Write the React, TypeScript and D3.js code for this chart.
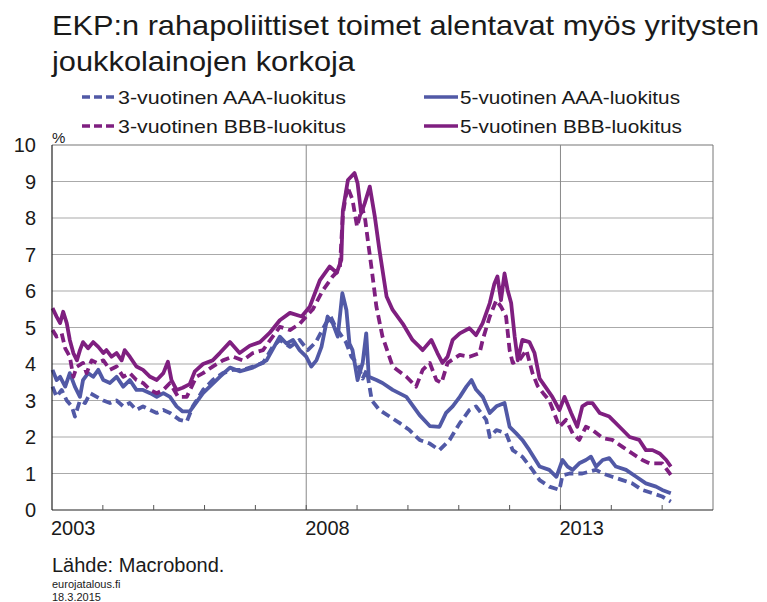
import React from "react";
import * as d3 from "d3";

const titleLines = ["EKP:n rahapoliittiset toimet alentavat myös yritysten", "joukkolainojen korkoja"];
const yTicks = [0, 1, 2, 3, 4, 5, 6, 7, 8, 9, 10];
const xLabelYears = [2003, 2008, 2013];
const xGridYears = [2008, 2013];
const xTickYears = [2004, 2005, 2006, 2007, 2008, 2009, 2010, 2011, 2012, 2013, 2014, 2015];

// [decimal year, %]
const aaa3: [number, number][] = [
  [2003.01, 3.38], [2003.09, 3.1], [2003.19, 3.29], [2003.29, 3.0], [2003.39, 2.84], [2003.45, 2.56],
  [2003.55, 3.0], [2003.65, 2.93], [2003.75, 3.2], [2003.88, 3.1], [2004.01, 3.0], [2004.14, 2.93],
  [2004.27, 3.0], [2004.4, 2.84], [2004.53, 2.93], [2004.66, 2.74], [2004.79, 2.84], [2004.93, 2.74],
  [2005.06, 2.66], [2005.19, 2.74], [2005.32, 2.66], [2005.51, 2.47], [2005.65, 2.42], [2005.77, 2.84],
  [2005.97, 3.29], [2006.16, 3.56], [2006.36, 3.75], [2006.56, 3.84], [2006.75, 3.84], [2006.95, 3.93],
  [2007.15, 4.03], [2007.34, 4.47], [2007.48, 4.66], [2007.68, 4.47], [2007.87, 4.66], [2008.03, 4.38],
  [2008.19, 4.6], [2008.38, 5.1], [2008.48, 5.3], [2008.58, 5.0], [2008.68, 4.8], [2008.78, 4.6],
  [2008.89, 4.2], [2009.01, 4.0], [2009.11, 3.6], [2009.19, 3.84], [2009.29, 3.0], [2009.44, 2.74],
  [2009.64, 2.56], [2009.84, 2.38], [2010.03, 2.19], [2010.23, 1.92], [2010.43, 1.82], [2010.62, 1.64],
  [2010.82, 1.92], [2011.02, 2.38], [2011.21, 2.74], [2011.34, 2.84], [2011.54, 2.47], [2011.61, 2.0],
  [2011.74, 2.19], [2011.93, 2.1], [2012.06, 1.64], [2012.25, 1.46], [2012.45, 1.1], [2012.59, 0.82],
  [2012.78, 0.64], [2012.98, 0.55], [2013.04, 0.95], [2013.18, 1.0], [2013.43, 1.0], [2013.7, 1.1],
  [2013.83, 1.0], [2014.02, 0.91], [2014.22, 0.82], [2014.41, 0.73], [2014.61, 0.55], [2014.81, 0.46],
  [2015.0, 0.37], [2015.17, 0.23],
];

const aaa5: [number, number][] = [
  [2003.01, 3.84], [2003.09, 3.56], [2003.16, 3.65], [2003.26, 3.38], [2003.35, 3.75], [2003.45, 3.38],
  [2003.55, 3.1], [2003.61, 3.56], [2003.71, 3.75], [2003.81, 3.65], [2003.91, 3.84], [2004.01, 3.56],
  [2004.14, 3.48], [2004.27, 3.65], [2004.4, 3.38], [2004.53, 3.56], [2004.66, 3.29], [2004.79, 3.29],
  [2004.93, 3.2], [2005.06, 3.1], [2005.19, 3.2], [2005.32, 3.1], [2005.45, 2.84], [2005.57, 2.7],
  [2005.71, 2.7], [2005.97, 3.2], [2006.3, 3.65], [2006.5, 3.9], [2006.69, 3.8], [2006.95, 3.9],
  [2007.22, 4.1], [2007.48, 4.75], [2007.61, 4.56], [2007.74, 4.66], [2007.87, 4.38], [2008.0, 4.2],
  [2008.1, 3.93], [2008.2, 4.1], [2008.3, 4.47], [2008.42, 5.3], [2008.52, 5.12], [2008.62, 4.75],
  [2008.71, 5.94], [2008.79, 5.48], [2008.85, 4.56], [2008.91, 4.38], [2009.01, 3.56], [2009.11, 4.03],
  [2009.18, 4.84], [2009.23, 3.65], [2009.38, 3.56], [2009.5, 3.48], [2009.7, 3.29], [2009.97, 3.1],
  [2010.23, 2.6], [2010.43, 2.3], [2010.62, 2.28], [2010.75, 2.66], [2010.88, 2.84],
  [2011.02, 3.1], [2011.15, 3.38], [2011.25, 3.56], [2011.34, 3.3], [2011.47, 3.1], [2011.61, 2.66],
  [2011.74, 2.84], [2011.9, 2.93], [2012.0, 2.28], [2012.13, 2.1], [2012.25, 1.92], [2012.39, 1.64],
  [2012.59, 1.19], [2012.78, 1.1], [2012.92, 0.91], [2013.04, 1.37], [2013.14, 1.19], [2013.24, 1.1],
  [2013.37, 1.28], [2013.5, 1.37], [2013.6, 1.46], [2013.7, 1.19], [2013.83, 1.37], [2013.96, 1.42],
  [2014.09, 1.19], [2014.29, 1.1], [2014.49, 0.91], [2014.68, 0.73], [2014.88, 0.64], [2015.0, 0.55],
  [2015.17, 0.46],
];

const bbb3: [number, number][] = [
  [2003.01, 4.93], [2003.09, 4.75], [2003.19, 4.84], [2003.26, 4.43], [2003.35, 4.2], [2003.42, 3.65],
  [2003.49, 3.93], [2003.61, 4.03], [2003.68, 3.75], [2003.78, 4.1], [2003.88, 4.03], [2004.01, 4.1],
  [2004.14, 3.84], [2004.27, 3.93], [2004.4, 3.65], [2004.53, 3.75], [2004.66, 3.56], [2004.79, 3.48],
  [2004.93, 3.29], [2005.06, 3.2], [2005.19, 3.29], [2005.32, 3.48], [2005.48, 3.1], [2005.65, 3.1],
  [2005.84, 3.65], [2005.97, 3.75], [2006.16, 3.93], [2006.36, 4.1], [2006.56, 4.2], [2006.75, 4.1],
  [2006.95, 4.3], [2007.15, 4.38], [2007.34, 4.75], [2007.48, 5.02], [2007.68, 4.93], [2007.87, 5.1],
  [2008.13, 5.5], [2008.32, 6.0], [2008.52, 6.4], [2008.66, 6.6], [2008.72, 8.1], [2008.81, 8.86],
  [2008.91, 8.5], [2009.0, 7.76], [2009.1, 8.3], [2009.16, 7.95], [2009.22, 7.3], [2009.29, 6.57],
  [2009.38, 5.57], [2009.5, 4.75], [2009.7, 3.93], [2009.97, 3.65], [2010.16, 3.38], [2010.29, 3.84],
  [2010.43, 4.03], [2010.56, 3.56], [2010.66, 3.48], [2010.78, 4.03], [2011.02, 4.25], [2011.21, 4.2],
  [2011.41, 4.3], [2011.47, 4.66], [2011.61, 5.3], [2011.74, 5.75], [2011.83, 5.57], [2011.93, 5.3],
  [2012.0, 4.38], [2012.06, 4.03], [2012.19, 4.1], [2012.33, 4.38], [2012.45, 3.75], [2012.55, 3.4],
  [2012.66, 3.2], [2012.78, 3.0], [2012.98, 2.28], [2013.11, 2.47], [2013.24, 2.1], [2013.37, 1.92],
  [2013.5, 2.28], [2013.63, 2.19], [2013.83, 1.97], [2014.02, 1.92], [2014.22, 1.73], [2014.41, 1.55],
  [2014.61, 1.37], [2014.75, 1.28], [2015.0, 1.28], [2015.17, 0.96],
];

const bbb5: [number, number][] = [
  [2003.01, 5.53], [2003.09, 5.3], [2003.16, 5.12], [2003.22, 5.43], [2003.29, 5.12], [2003.35, 4.66],
  [2003.42, 4.3], [2003.49, 4.1], [2003.55, 4.38], [2003.61, 4.6], [2003.71, 4.43], [2003.81, 4.6],
  [2003.91, 4.47], [2004.01, 4.3], [2004.07, 4.38], [2004.17, 4.2], [2004.27, 4.3], [2004.37, 4.1],
  [2004.43, 4.38], [2004.53, 4.2], [2004.66, 3.93], [2004.79, 3.84], [2004.93, 3.65], [2005.06, 3.56],
  [2005.19, 3.75], [2005.28, 4.06], [2005.35, 3.56], [2005.45, 3.29], [2005.57, 3.35], [2005.71, 3.45],
  [2005.81, 3.8], [2005.97, 4.0], [2006.16, 4.1], [2006.3, 4.3], [2006.5, 4.6], [2006.69, 4.3],
  [2006.89, 4.5], [2007.09, 4.6], [2007.28, 4.85], [2007.48, 5.2], [2007.68, 5.4], [2007.91, 5.3],
  [2008.07, 5.57], [2008.27, 6.3], [2008.46, 6.67], [2008.6, 6.5], [2008.69, 6.85], [2008.72, 8.2],
  [2008.82, 9.04], [2008.95, 9.23], [2009.01, 8.95], [2009.08, 8.13], [2009.15, 8.4], [2009.25, 8.86],
  [2009.35, 8.03], [2009.44, 7.12], [2009.58, 5.85], [2009.7, 5.48], [2009.9, 5.1], [2010.09, 4.66],
  [2010.23, 4.47], [2010.29, 4.38], [2010.46, 4.66], [2010.58, 4.3], [2010.68, 4.03], [2010.78, 4.2],
  [2010.88, 4.66], [2011.02, 4.84], [2011.21, 4.98], [2011.34, 4.79], [2011.47, 5.12], [2011.61, 5.67],
  [2011.7, 6.2], [2011.76, 6.4], [2011.83, 5.75], [2011.9, 6.48], [2011.96, 6.03], [2012.03, 5.67],
  [2012.1, 4.75], [2012.16, 4.1], [2012.25, 4.66], [2012.39, 4.6], [2012.49, 4.3], [2012.59, 3.6],
  [2012.69, 3.4], [2012.84, 3.1], [2012.98, 2.74], [2013.08, 3.1], [2013.21, 2.66], [2013.33, 2.28],
  [2013.43, 2.84], [2013.53, 2.93], [2013.63, 2.93], [2013.77, 2.66], [2013.96, 2.56], [2014.16, 2.28],
  [2014.36, 2.0], [2014.55, 1.92], [2014.68, 1.64], [2014.81, 1.64], [2014.95, 1.55], [2015.08, 1.37],
  [2015.17, 1.19],
];

const BLUE = "#5159a6";
const PURPLE = "#7f1f80";

const seriesList = [
  { name: "3-vuotinen AAA-luokitus", data: aaa3, color: BLUE, dashed: true },
  { name: "5-vuotinen AAA-luokitus", data: aaa5, color: BLUE, dashed: false },
  { name: "3-vuotinen BBB-luokitus", data: bbb3, color: PURPLE, dashed: true },
  { name: "5-vuotinen BBB-luokitus", data: bbb5, color: PURPLE, dashed: false },
];

export default function App() {
  const W = 767, H = 602;
  const left = 52, right = 713, top = 145, bottom = 510;
  const x = d3.scaleLinear().domain([2003, 2016]).range([left, right]);
  const y = d3.scaleLinear().domain([0, 10]).range([bottom, top]);
  const line = d3.line<[number, number]>().x((d) => x(d[0])).y((d) => y(d[1]));
  const font = "'Liberation Sans', Arial, sans-serif";
  const legendPos = [
    { lx: 82, ly: 97, tw: 228 },
    { lx: 424, ly: 97, tw: 220 },
    { lx: 82, ly: 126, tw: 228 },
    { lx: 424, ly: 126, tw: 222 },
  ];
  const titleWidths = [707, 303];
  return (
    <svg width={W} height={H} style={{ position: "absolute", left: 0, top: 0, background: "#fff" }} fontFamily={font}>
      <rect x={0} y={0} width={W} height={H} fill="#fff" />
      {titleLines.map((t, i) => (
        <text key={t} x={52} y={35 + i * 36} fontSize={28} fill="#1a1a1a" textLength={titleWidths[i]} lengthAdjust="spacingAndGlyphs">
          {t}
        </text>
      ))}
      {seriesList.map((s, i) => (
        <g key={s.name}>
          <line x1={legendPos[i].lx} x2={legendPos[i].lx + 34} y1={legendPos[i].ly} y2={legendPos[i].ly}
            stroke={s.color} strokeWidth={3.5} strokeDasharray={s.dashed ? "8,4" : undefined} />
          <text x={legendPos[i].lx + 36} y={legendPos[i].ly + 7} fontSize={19} fill="#1a1a1a"
            textLength={legendPos[i].tw} lengthAdjust="spacingAndGlyphs">{s.name}</text>
        </g>
      ))}
      {/* gridlines */}
      {yTicks.filter((t) => t > 0).map((t) => (
        <line key={t} x1={left} x2={right} y1={y(t)} y2={y(t)} stroke={t === 10 ? "#777" : "#aaa"} strokeWidth={1.2} />
      ))}
      {xGridYears.map((yr) => (
        <line key={yr} x1={x(yr)} x2={x(yr)} y1={top} y2={bottom} stroke="#888" strokeWidth={1} />
      ))}
      <line x1={right} x2={right} y1={top} y2={bottom} stroke="#777" strokeWidth={1} />
      {/* series */}
      {seriesList.map((s) => (
        <path key={s.name} d={line(s.data) || ""} fill="none" stroke={s.color} strokeWidth={3.8}
          strokeLinejoin="round" strokeDasharray={s.dashed ? "9,5" : undefined} />
      ))}
      {/* axes */}
      <line x1={left} x2={left} y1={top} y2={bottom} stroke="#222" strokeWidth={1.2} />
      <line x1={left} x2={right} y1={bottom} y2={bottom} stroke="#222" strokeWidth={1.2} />
      {xTickYears.map((yr) => (
        <line key={yr} x1={x(yr)} x2={x(yr)} y1={bottom} y2={bottom - 5} stroke="#555" strokeWidth={1} />
      ))}
      {yTicks.map((t) => (
        <text key={t} x={36} y={y(t) + 7} fontSize={20} textAnchor="end" fill="#1a1a1a">{t}</text>
      ))}
      <text x={52} y={143} fontSize={15} fill="#1a1a1a">%</text>
      {xLabelYears.map((yr) => (
        <text key={yr} x={x(yr) - 1} y={535} fontSize={20} fill="#1a1a1a">{yr}</text>
      ))}
      <text x={52} y={572} fontSize={20} fill="#1a1a1a">Lähde: Macrobond.</text>
      <text x={52} y={588} fontSize={11} fill="#1a1a1a">eurojatalous.fi</text>
      <text x={52} y={601} fontSize={11} fill="#1a1a1a">18.3.2015</text>
    </svg>
  );
}
